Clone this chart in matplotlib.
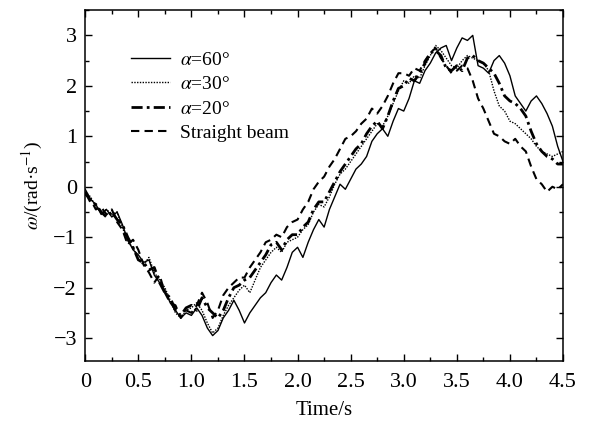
import numpy as np
import matplotlib.pyplot as plt
from matplotlib.ticker import MultipleLocator

plt.rcParams['font.family'] = ['Liberation Serif', 'DejaVu Serif']
plt.rcParams['mathtext.fontset'] = 'stix'

# angular velocity samples, every 0.05 s from 0 to 4.5 s
t = np.linspace(0, 4.5, 91)

w_a60 = [-0.05, -0.25, -0.35, -0.55, -0.45, -0.60, -0.50, -0.75, -1.05, -1.25,
         -1.35, -1.50, -1.45, -1.75, -1.90, -2.05, -2.30, -2.45, -2.60, -2.50,
         -2.55, -2.40, -2.55, -2.80, -2.95, -2.85, -2.60, -2.45, -2.25, -2.45,
         -2.70, -2.50, -2.35, -2.20, -2.10, -1.90, -1.75, -1.85, -1.60, -1.30,
         -1.20, -1.40, -1.10, -0.85, -0.65, -0.80, -0.45, -0.20, 0.05, -0.05,
         0.15, 0.35, 0.45, 0.60, 0.90, 1.05, 1.15, 1.00, 1.30, 1.55,
         1.50, 1.75, 2.10, 2.05, 2.30, 2.45, 2.65, 2.75, 2.80, 2.50,
         2.75, 2.95, 2.90, 3.00, 2.40, 2.35, 2.25, 2.50, 2.60, 2.45,
         2.20, 1.80, 1.65, 1.50, 1.70, 1.80, 1.65, 1.45, 1.20, 0.80,
         0.50]

w_a30 = [-0.10, -0.20, -0.40, -0.50, -0.45, -0.55, -0.50, -0.80, -1.10, -1.20,
         -1.45, -1.55, -1.40, -1.70, -1.85, -2.00, -2.25, -2.50, -2.60, -2.45,
         -2.40, -2.30, -2.45, -2.70, -2.90, -2.80, -2.55, -2.35, -2.20, -2.05,
         -1.95, -2.10, -1.85, -1.60, -1.45, -1.30, -1.20, -1.30, -1.10, -1.05,
         -1.00, -0.85, -0.75, -0.50, -0.35, -0.40, -0.20, 0.05, 0.25, 0.35,
         0.50, 0.65, 0.80, 0.95, 1.10, 1.25, 1.20, 1.40, 1.65, 1.90,
         2.10, 2.05, 2.20, 2.15, 2.40, 2.60, 2.80, 2.70, 2.55, 2.40,
         2.35, 2.50, 2.60, 2.55, 2.50, 2.45, 2.30, 1.90, 1.60, 1.50,
         1.30, 1.25, 1.15, 1.05, 0.95, 0.80, 0.70, 0.65, 0.60, 0.65,
         0.70]

w_a20 = [-0.10, -0.30, -0.35, -0.50, -0.60, -0.50, -0.65, -0.75, -1.00, -1.20,
         -1.45, -1.50, -1.65, -1.60, -1.90, -2.10, -2.20, -2.45, -2.55, -2.40,
         -2.35, -2.45, -2.20, -2.40, -2.50, -2.60, -2.45, -2.20, -2.00, -1.95,
         -1.85, -1.80, -1.65, -1.50, -1.35, -1.15, -1.10, -1.25, -1.05, -0.95,
         -0.95, -0.80, -0.70, -0.45, -0.30, -0.30, -0.10, 0.10, 0.30, 0.45,
         0.60, 0.75, 0.85, 1.05, 1.20, 1.30, 1.15, 1.40, 1.70, 1.95,
         2.00, 2.15, 2.10, 2.25, 2.45, 2.65, 2.70, 2.60, 2.35, 2.30,
         2.40, 2.30, 2.55, 2.60, 2.50, 2.45, 2.35, 2.25, 2.05, 1.80,
         1.70, 1.65, 1.55, 1.40, 1.10, 0.85, 0.70, 0.60, 0.55, 0.45,
         0.45]

w_straight = [-0.15, -0.25, -0.45, -0.40, -0.55, -0.45, -0.70, -0.85, -1.15, -1.05,
              -1.25, -1.55, -1.70, -1.90, -1.75, -2.10, -2.30, -2.35, -2.60, -2.45,
              -2.50, -2.35, -2.10, -2.30, -2.60, -2.45, -2.15, -2.00, -1.90, -1.80,
              -1.80, -1.60, -1.45, -1.30, -1.10, -1.05, -0.95, -1.00, -0.80, -0.70,
              -0.65, -0.45, -0.30, -0.05, 0.10, 0.20, 0.40, 0.55, 0.75, 0.95,
              1.00, 1.10, 1.25, 1.35, 1.55, 1.45, 1.60, 1.80, 2.05, 2.25,
              2.25, 2.20, 2.35, 2.30, 2.50, 2.65, 2.75, 2.55, 2.40, 2.25,
              2.30, 2.40, 2.35, 2.10, 1.75, 1.55, 1.30, 1.05, 1.00, 0.90,
              0.85, 0.95, 0.80, 0.70, 0.40, 0.15, 0.05, -0.10, 0.00, -0.05,
              0.05]

labels = [r'$\alpha$=60°', r'$\alpha$=30°', r'$\alpha$=20°', 'Straight beam']

fig = plt.figure(figsize=(5.92, 4.23), dpi=100)
ax = fig.add_axes([0.144, 0.147, 0.807, 0.829])

ax.plot(t, w_a60, color='black', lw=1.0, label=labels[0])
ax.plot(t, w_a30, color='black', lw=1.0, ls=(0, (1, 1)), label=labels[1])
ax.plot(t, w_a20, color='black', lw=2.0, ls=(0, (4, 1.5, 1, 1.5)), label=labels[2])
ax.plot(t, w_straight, color='black', lw=1.5, ls=(0, (4, 2.5)), label=labels[3])

ax.set_xlim(0, 4.5)
ax.set_ylim(-3.45, 3.5)
ax.xaxis.set_minor_locator(MultipleLocator(0.25))
ax.yaxis.set_minor_locator(MultipleLocator(0.5))
ax.set_xticks(np.arange(0, 4.51, 0.5))
ax.set_xticklabels(['0', '0.5', '1.0', '1.5', '2.0', '2.5', '3.0', '3.5', '4.0', '4.5'])
ax.set_yticks([-3, -2, -1, 0, 1, 2, 3])
ax.set_yticklabels(['\u22123', '\u22122', '\u22121', '0', '1', '2', '3'])
ax.tick_params(which='both', direction='in', top=True, right=True, labelsize=16, width=1)
ax.tick_params(which='major', length=5)
ax.tick_params(axis='x', which='major', pad=9)
ax.tick_params(axis='y', which='major', pad=6)
ax.tick_params(which='minor', length=3)
for s in ax.spines.values():
    s.set_linewidth(1.1)

ax.set_xlabel('Time/s', fontsize=15, labelpad=6)
ax.set_ylabel(r'$\omega$/(rad·s$^{-1}$)', fontsize=14, labelpad=6)

ax.legend(loc='upper left', bbox_to_anchor=(0.08, 0.905), frameon=False, fontsize=14,
          handlelength=2.0, handletextpad=0.5, labelspacing=0.35, borderaxespad=0)

fig.savefig('out.png', dpi=100)
